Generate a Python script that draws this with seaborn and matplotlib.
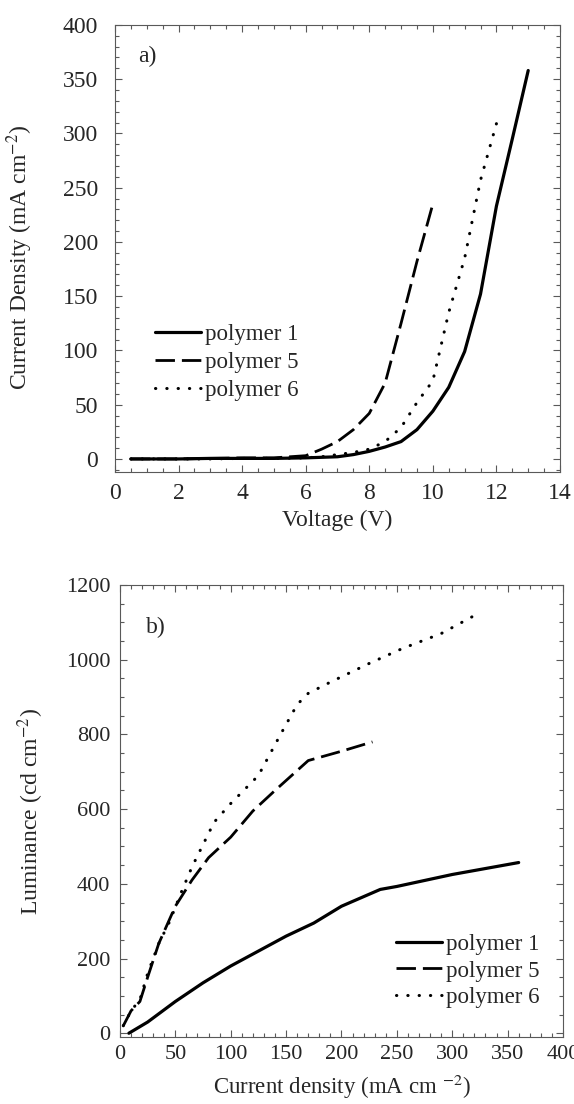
"""
Two-panel device plot: J-V curves (a) and luminance vs current density (b)
for polymers 1, 5 and 6.
"""

import matplotlib
matplotlib.use("Agg")
import matplotlib.pyplot as plt
from matplotlib.ticker import MultipleLocator
import seaborn as sns

# === Data ===

# a) current density vs voltage
v_p1 = [0.5, 1, 2, 3, 4, 5, 6, 6.5, 7, 7.5, 8, 8.5, 9, 9.5, 10, 10.5, 11, 11.5, 12, 12.5, 13]
j_p1 = [0, 0, 0, 0.5, 0.5, 0.5, 1, 1.5, 2, 4, 7, 11, 16, 27, 44, 66, 99, 152, 233, 295, 358]

v_p5 = [0.5, 1, 2, 3, 4, 5, 6, 6.5, 7, 7.5, 8, 8.5, 9, 9.5, 10]
j_p5 = [0, 0, 0, 0.5, 1, 1, 3, 9, 16, 27, 42, 70, 125, 182, 235]

v_p6 = [0.5, 1, 2, 3, 4, 5, 6, 6.5, 7, 7.5, 8, 8.5, 9, 9.5, 10, 10.5, 11, 11.5, 12]
j_p6 = [0, 0, 0, 0, 0.5, 0.5, 1, 2, 4, 6, 9, 16, 29, 52, 72, 135, 185, 257, 309]

# b) luminance vs current density
cd_p1 = [8, 25, 50, 75, 100, 125, 150, 175, 200, 235, 250, 300, 360]
lum_p1 = [0, 30, 85, 135, 180, 220, 260, 295, 340, 385, 393, 425, 457]

cd_p5 = [3, 10, 18, 25, 35, 50, 65, 80, 100, 120, 140, 170, 200, 228]
lum_p5 = [20, 60, 85, 150, 240, 340, 410, 470, 525, 595, 650, 730, 755, 780]

cd_p6 = [3, 10, 18, 25, 35, 45, 55, 65, 75, 85, 100, 125, 145, 160, 170, 190, 225, 255, 290, 318]
lum_p6 = [20, 60, 90, 160, 240, 300, 375, 445, 505, 565, 615, 690, 800, 880, 910, 940, 990, 1030, 1070, 1115]

labels = ["polymer 1", "polymer 5", "polymer 6"]

# === Style ===
sns.set_theme(style="ticks")
plt.rcParams["font.family"] = ["Liberation Serif", "DejaVu Serif"]
plt.rcParams["mathtext.fontset"] = "stix"

# solid / long dash / round dots
line_styles = ["-", (0, (7, 2.5)), (0, (0.1, 3.6))]
line_widths = [2.3, 2.0, 2.2]
cap_styles = ["butt", "butt", "round"]


def style_axes(ax, xmaj, xmin, ymaj, ymin, size, xpad, ypad):
    ax.xaxis.set_major_locator(MultipleLocator(xmaj))
    ax.xaxis.set_minor_locator(MultipleLocator(xmin))
    ax.yaxis.set_major_locator(MultipleLocator(ymaj))
    ax.yaxis.set_minor_locator(MultipleLocator(ymin))
    ax.tick_params(which="both", direction="in", top=True, right=True,
                   labelsize=size, color="0.35", width=0.8)
    ax.tick_params(which="major", length=5)
    ax.tick_params(which="minor", length=3)
    ax.tick_params(axis="x", which="major", pad=xpad)
    ax.tick_params(axis="y", which="major", pad=ypad)
    for s in ax.spines.values():
        s.set_color("0.35")
        s.set_linewidth(0.8)


def draw_lines(ax, xs, ys):
    for x, y, lab, ls, lw, cap in zip(xs, ys, labels, line_styles, line_widths, cap_styles):
        sns.lineplot(x=x, y=y, ax=ax, color="black", linestyle=ls, linewidth=lw,
                     label=lab, dash_capstyle=cap)


fig = plt.figure(figsize=(5.74, 11.04), dpi=100)
ax1 = fig.add_axes([0.2003, 0.5725, 0.7753, 0.4049])
ax2 = fig.add_axes([0.209, 0.0607, 0.7718, 0.4094])

# === Panel a ===
draw_lines(ax1, [v_p1, v_p5, v_p6], [j_p1, j_p5, j_p6])
ax1.set_xlim(0, 14)
ax1.set_ylim(-12, 400)
style_axes(ax1, 2, 0.5, 50, 10, 17, 8, 12)
ax1.set_xlabel("Voltage (V)", fontsize=17, labelpad=4)
ax1.set_ylabel(r"Current Density (mA cm$^{-2}$)", fontsize=17)
ax1.yaxis.set_label_coords(-0.18, 0.48)
ax1.text(0.052, 0.93, "a)", transform=ax1.transAxes, fontsize=17, va="center")
ax1.legend(frameon=False, loc="center left", bbox_to_anchor=(0.09, 0.244),
           fontsize=16.5, handlelength=2.0, handletextpad=0.2,
           labelspacing=0.3, borderpad=0, borderaxespad=0)

# === Panel b ===
draw_lines(ax2, [cd_p1, cd_p5, cd_p6], [lum_p1, lum_p5, lum_p6])
ax2.set_xlim(0, 400)
ax2.set_ylim(-10, 1200)
style_axes(ax2, 50, 10, 200, 50, 16, 6, 7)
ax2.set_xlabel(r"Current density (mA cm $^{-2}$)", fontsize=16.5, labelpad=6)
ax2.set_ylabel(r"Luminance (cd cm$^{-2}$)", fontsize=17, labelpad=14)
ax2.text(0.059, 0.907, "b)", transform=ax2.transAxes, fontsize=17, va="center")
ax2.legend(frameon=False, loc="center left", bbox_to_anchor=(0.623, 0.146),
           fontsize=16.5, handlelength=2.0, handletextpad=0.2,
           labelspacing=0.25, borderpad=0, borderaxespad=0)

fig.savefig("out.png", dpi=100)
